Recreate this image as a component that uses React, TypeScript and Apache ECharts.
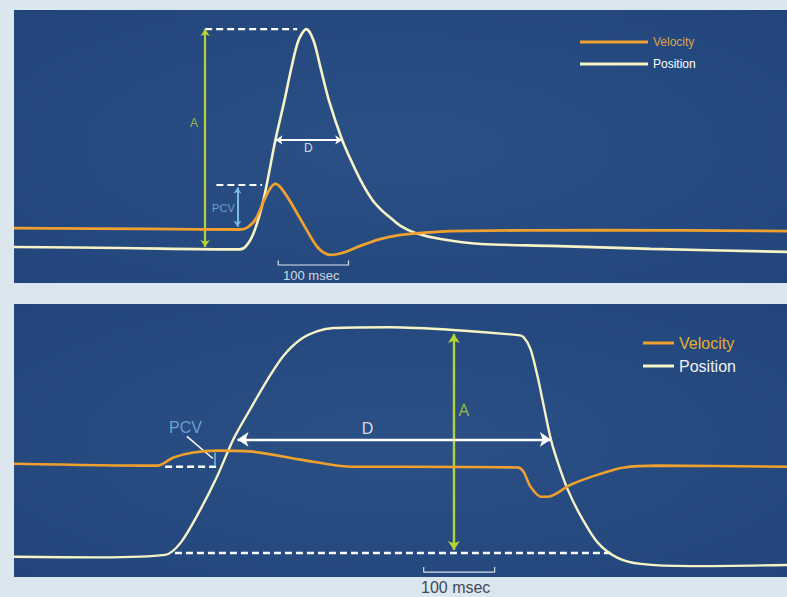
import React, { useEffect, useRef } from "react";
import * as echarts from "echarts";

// ---------- data (time in ms, amplitude in arbitrary units 0-100) ----------
// Top panel (saccade-like response)
const topPosT = [0, 151, 318, 329, 341, 355, 372, 385, 395, 405, 416, 426, 436, 448, 467, 482, 496, 510, 523, 536, 550, 571, 607, 664, 764, 906, 1100];
const topPosV = [13.2, 12.8, 12.3, 13.2, 18.3, 30.4, 52.4, 67.0, 79.1, 89.0, 93.0, 89.0, 79.1, 67.0, 52.4, 43.6, 36.3, 30.4, 26.7, 23.8, 20.9, 18.3, 16.1, 14.3, 13.6, 12.5, 11.4];
const topVelT = [0, 194, 322, 333, 345, 356, 365, 372, 380, 396, 415, 433, 450, 467, 493, 521, 550, 578, 621, 835, 1100];
const topVelV = [20.1, 19.8, 19.6, 20.5, 23.8, 30.4, 34.8, 36.3, 34.8, 28.6, 20.1, 12.8, 10.3, 11.0, 13.6, 16.1, 17.6, 18.3, 19.0, 19.4, 19.0];

// Bottom panel (sustained response)
const botPosT = [0, 123, 215, 237, 265, 289, 312, 336, 361, 383, 408, 432, 455, 536, 631, 717, 725, 735, 745, 754, 764, 774, 788, 807, 831, 859, 892, 963, 1100];
const botPosV = [7.4, 7.2, 8.1, 12.5, 24.6, 36.8, 50.4, 61.4, 72.4, 80.9, 87.1, 90.1, 91.2, 91.5, 90.4, 88.6, 87.9, 83.5, 73.5, 62.5, 50.4, 41.9, 32.0, 22.1, 12.5, 7.0, 4.8, 4.0, 4.4];
const botVelT = [0, 204, 227, 255, 289, 336, 408, 479, 550, 717, 725, 735, 750, 760, 792, 831, 868, 916, 1100];
const botVelV = [41.5, 40.8, 43.8, 45.6, 46.3, 46.0, 43.0, 40.4, 40.4, 40.1, 38.6, 33.1, 29.4, 29.4, 33.8, 37.5, 40.1, 40.8, 40.4];

// Annotations (in data units)
const topAmpArrow = [[272, 93.0], [272, 13.2]];
const topPeakDash = [[272, 93.0], [403, 93.0]];
const topPcvDash = [[288, 35.9], [353, 35.9]];
const topPcvArrow = [[318, 35.0], [318, 20.6]];
const topDurArrow = [[372, 52.4], [467, 52.4]];
const topScaleBar = [[376, 8.2], [376, 6.6], [476, 6.6], [476, 8.2]];
const topLabels = [
  { text: "A", at: [256, 58.6], kind: "amp" },
  { text: "D", at: [419, 49.4], kind: "dur" },
  { text: "PCV", at: [298, 27.6], kind: "pcv" },
  { text: "100 msec", at: [423, 2.9], kind: "scale" },
];

const botAmpArrow = [[626, 89.0], [626, 9.9]];
const botBaseDash = [[229, 8.8], [849, 8.8]];
const botDurArrow = [[318, 50.4], [764, 50.4]];
const botPcvDash = [[215, 40.4], [289, 40.4]];
const botPcvTick = [[286, 45.6], [286, 40.6]];
const botPcvPointer = [[246, 51.5], [283, 43.4]];
const botScaleBar = [[583, 3.7], [583, 1.8], [684, 1.8], [684, 3.7]];
const botLabels = [
  { text: "A", at: [640, 61.0], kind: "amp" },
  { text: "D", at: [503, 54.4], kind: "dur" },
  { text: "PCV", at: [244, 54.6], kind: "pcv" },
];
const seriesNames = ["Velocity", "Position"];

// ---------- styles ----------
const ORANGE = "#f0a02c";
const CREAM = "#f6f3c6";
const GREEN = "#b6d534";
const LBLUE = "#7cb9e4";
const WHITE = "#ffffff";
const NARROW = "'Liberation Sans Narrow', 'Arial Narrow', 'Liberation Sans', Arial, sans-serif";
const SANS = "'Liberation Sans', Arial, sans-serif";

const pairs = (ts: number[], vs: number[]) => ts.map((t, i) => [t, vs[i]]);

function curve(name: string, g: number, ts: number[], vs: number[], color: string, width: number, z: number) {
  return {
    name,
    type: "line",
    xAxisIndex: g,
    yAxisIndex: g,
    data: pairs(ts, vs),
    smooth: 0.3,
    showSymbol: false,
    symbol: "none",
    color,
    lineStyle: { color, width },
    z,
    silent: true,
  };
}

function segment(g: number, pts: number[][], color: string, width: number, dashed: boolean, z = 3) {
  return {
    type: "line",
    xAxisIndex: g,
    yAxisIndex: g,
    data: pts,
    showSymbol: false,
    symbol: "none",
    lineStyle: { color, width, type: dashed ? [7, 4] : "solid" },
    z,
    silent: true,
  };
}

function arrow(g: number, pts: number[][], color: string, width: number, head: number, z = 3) {
  return {
    type: "line",
    xAxisIndex: g,
    yAxisIndex: g,
    data: pts,
    showSymbol: false,
    symbol: "none",
    lineStyle: { opacity: 0 },
    z,
    silent: true,
    markLine: {
      silent: true,
      symbol: ["arrow", "arrow"],
      symbolSize: [head, head],
      label: { show: false },
      lineStyle: { color, width, type: "solid" },
      emphasis: { disabled: true },
      data: [[{ coord: pts[0] }, { coord: pts[1] }]],
    },
  };
}

function labels(g: number, items: { text: string; at: number[]; kind: string }[], big: boolean) {
  const colorOf: Record<string, string> = { amp: GREEN, dur: WHITE, pcv: LBLUE, scale: WHITE };
  const sizeOf: Record<string, number> = big
    ? { amp: 16, dur: 16, pcv: 16, scale: 15 }
    : { amp: 12, dur: 12, pcv: 11, scale: 13 };
  return {
    type: "scatter",
    xAxisIndex: g,
    yAxisIndex: g,
    symbolSize: 0,
    itemStyle: { color: "rgba(0,0,0,0)" },
    silent: true,
    z: 6,
    data: items.map((it) => ({
      value: it.at,
      label: {
        show: true,
        position: "inside",
        formatter: it.text,
        color: colorOf[it.kind],
        fontSize: sizeOf[it.kind],
        fontFamily: it.kind === "scale" ? SANS : NARROW,
      },
    })),
  };
}

function panelBg() {
  return new echarts.graphic.RadialGradient(0.5, 0.5, 0.75, [
    { offset: 0, color: "#2b5085" },
    { offset: 1, color: "#21457a" },
  ]);
}

export default function App() {
  const ref = useRef<HTMLDivElement>(null);

  useEffect(() => {
    if (!ref.current) return;
    const chart = echarts.init(ref.current, null, { renderer: "svg" });
    const axisX = (g: number) => ({ type: "value", gridIndex: g, min: 0, max: 1100, show: false });
    const axisY = (g: number) => ({ type: "value", gridIndex: g, min: 0, max: 100, show: false });

    chart.setOption({
      animation: false,
      backgroundColor: "#dce6ef",
      grid: [
        { left: 14, top: 10, width: 773, height: 273, show: true, borderWidth: 0, backgroundColor: panelBg() },
        { left: 14, top: 304, width: 773, height: 273, show: true, borderWidth: 0, backgroundColor: panelBg() },
      ],
      xAxis: [axisX(0), axisX(1)],
      yAxis: [axisY(0), axisY(1)],
      legend: [
        {
          left: 580,
          top: 36,
          orient: "vertical",
          icon: "rect",
          itemWidth: 68,
          itemHeight: 3,
          itemGap: 10,
          padding: 0,
          selectedMode: false,
          textStyle: { fontFamily: NARROW, fontSize: 12 },
          data: [
            { name: seriesNames[0], textStyle: { color: "#dfa24a" } },
            { name: seriesNames[1], textStyle: { color: WHITE } },
          ],
        },
        {
          left: 643,
          top: 335,
          orient: "vertical",
          icon: "rect",
          itemWidth: 31,
          itemHeight: 3,
          itemGap: 7,
          padding: 0,
          selectedMode: false,
          textStyle: { fontFamily: NARROW, fontSize: 16 },
          data: [
            { name: seriesNames[0], textStyle: { color: "#e8ac2c" } },
            { name: seriesNames[1], textStyle: { color: "#eef2f4" } },
          ],
        },
      ],
      graphic: [
        {
          type: "text",
          left: 421,
          top: 579,
          style: { text: "100 msec", fill: "#3d4a58", font: `16px ${SANS}` },
          silent: true,
        },
      ],
      series: [
        // top panel annotations
        segment(0, topPeakDash, WHITE, 2.2, true),
        segment(0, topPcvDash, WHITE, 2.2, true),
        segment(0, topScaleBar, "#dfe5ec", 1.2, false),
        arrow(0, topAmpArrow, GREEN, 2.2, 7),
        arrow(0, topPcvArrow, LBLUE, 2, 6),
        arrow(0, topDurArrow, WHITE, 2, 7),
        labels(0, topLabels, false),
        // top panel curves
        curve(seriesNames[1], 0, topPosT, topPosV, CREAM, 2.6, 4),
        curve(seriesNames[0], 0, topVelT, topVelV, ORANGE, 2.8, 5),
        // bottom panel annotations
        segment(1, botBaseDash, WHITE, 2.4, true),
        segment(1, botPcvDash, WHITE, 2.4, true),
        segment(1, botPcvTick, LBLUE, 1.5, false),
        segment(1, botPcvPointer, WHITE, 1.5, false),
        segment(1, botScaleBar, "#d6dee8", 1.2, false),
        arrow(1, botAmpArrow, GREEN, 2.4, 9),
        arrow(1, botDurArrow, WHITE, 2.4, 11),
        labels(1, botLabels, true),
        // bottom panel curves
        curve(seriesNames[1], 1, botPosT, botPosV, CREAM, 2.4, 4),
        curve(seriesNames[0], 1, botVelT, botVelV, ORANGE, 2.6, 5),
      ],
    });
    return () => chart.dispose();
  }, []);

  return (
    <div
      ref={ref}
      style={{ position: "fixed", left: 0, top: 0, width: 787, height: 597 }}
    />
  );
}
